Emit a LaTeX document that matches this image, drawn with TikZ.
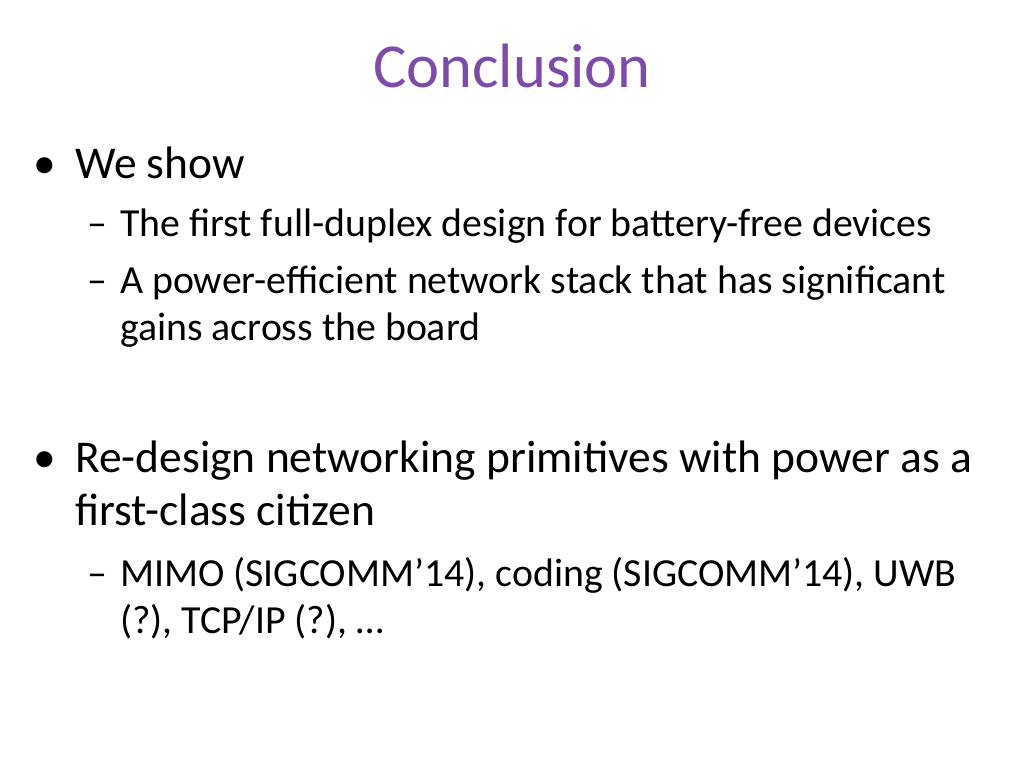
\documentclass[tikz,border=0pt]{standalone}
\usepackage{fontspec}
\setmainfont{Carlito}
\definecolor{ttl}{HTML}{7F4BA8}
\begin{document}
\begin{tikzpicture}[x=1pt,y=-1pt,
  t/.style={anchor=base west,inner sep=0pt,font=\fontsize{45.5}{54}\selectfont},
  s/.style={anchor=base west,inner sep=0pt,font=\fontsize{39.8}{48}\selectfont}]
\useasboundingbox (0,0) rectangle (1024,768);
\node[anchor=base,inner sep=0pt,text=ttl,font=\fontsize{62.6}{70}\selectfont] (title) at (512,87) {Conclusion};
\node[t] (b1) at (33,178) {•};
\node[t] (l1) at (75,178) {We show};
\node[s] (d1) at (87,236) {–};
\node[s] (l2) at (120,236) {The first full-duplex design for battery-free devices};
\node[s] (d2) at (87,293) {–};
\node[s] (l3) at (120,293) {A power-efficient network stack that has significant};
\node[s] (l3b) at (120,340) {gains across the board};
\node[t] (b2) at (33,472) {•};
\node[t] (l4) at (75,472) {Re-design networking primitives with power as a};
\node[t] (l4b) at (75,525) {first-class citizen};
\node[s] (d3) at (87,586) {–};
\node[s] (l5) at (120,586) {MIMO (SIGCOMM’14), coding (SIGCOMM’14), UWB};
\node[s] (l5b) at (120,633) {(?), TCP/IP (?), …};
\end{tikzpicture}
\end{document}
